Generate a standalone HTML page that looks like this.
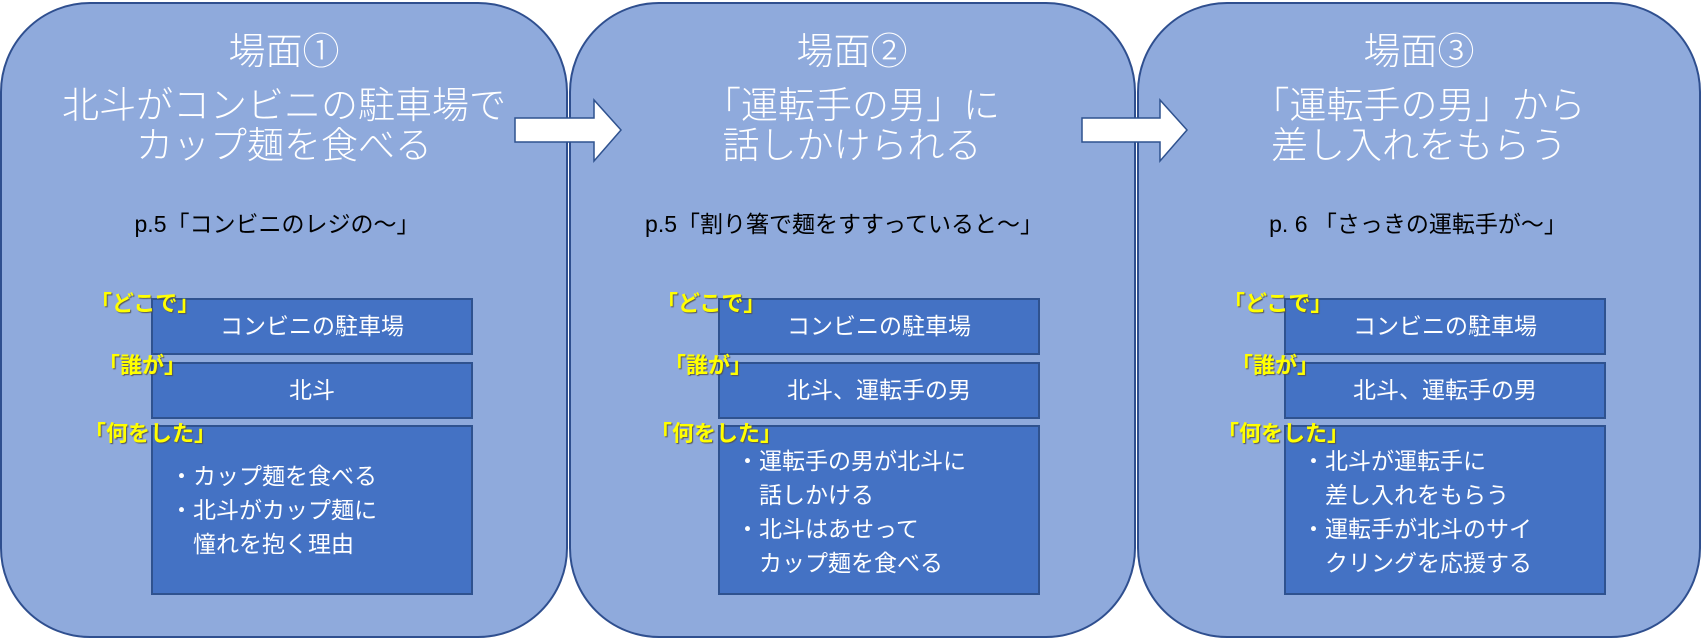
<!DOCTYPE html>
<html><head><meta charset="utf-8"><style>
body{margin:0;width:1702px;height:642px;background:#fff;position:relative;overflow:hidden;font-family:"Liberation Sans","Noto Sans CJK JP",sans-serif}
.p{position:absolute;top:2px;height:636px;background:#8faadc;border:2px solid #2f4f8f;border-radius:90px;box-sizing:border-box}
.t{position:absolute;color:#fff;font-size:37px;line-height:40px;text-align:center;white-space:nowrap;transform:translateX(-50%);font-weight:300}
.pg{position:absolute;color:#000;font-size:23px;white-space:nowrap;transform:translateX(-50%)}
.b{position:absolute;background:#4472c4;border:2px solid #2f528f;box-sizing:border-box;color:#fff;font-size:23px;text-align:center}
.y{position:absolute;color:#ffff00;font-weight:bold;font-size:22px;white-space:nowrap;text-shadow:1px 1px 1px #555}
.l{position:absolute;color:#fff;font-size:23px;line-height:34px;white-space:nowrap}
</style></head><body>
<div class="p" style="left:0;width:568px"></div>
<div class="p" style="left:569px;width:567px"></div>
<div class="p" style="left:1137px;width:564px"></div>

<svg style="position:absolute;left:0;top:0" width="1702" height="642">
<polygon points="515,118 594,118 594,100 621,130 594,161 594,142 515,142" fill="#fff" stroke="#2f528f" stroke-width="1.5"/>
<polygon points="1082,118 1160,118 1160,100 1187,130 1160,161 1160,142 1082,142" fill="#fff" stroke="#2f528f" stroke-width="1.5"/>
</svg>

<div class="t" style="left:284px;top:32px">場面①</div>
<div class="t" style="left:284px;top:86px">北斗がコンビニの駐車場で<br>カップ麺を食べる</div>
<div class="t" style="left:852px;top:32px">場面②</div>
<div class="t" style="left:852px;top:86px">「運転手の男」に<br>話しかけられる</div>
<div class="t" style="left:1419px;top:32px">場面③</div>
<div class="t" style="left:1419px;top:86px">「運転手の男」から<br>差し入れをもらう</div>

<div class="pg" style="left:277px;top:205px">p.5「コンビニのレジの～」</div>
<div class="pg" style="left:844px;top:205px">p.5「割り箸で麺をすすっていると～」</div>
<div class="pg" style="left:1418px;top:205px">p. 6 「さっきの運転手が～」</div>

<div class="b" style="left:151px;top:298px;width:322px;height:57px;line-height:53px">コンビニの駐車場</div>
<div class="b" style="left:151px;top:362px;width:322px;height:57px;line-height:53px">北斗</div>
<div class="b" style="left:151px;top:425px;width:322px;height:170px"></div>
<div class="b" style="left:718px;top:298px;width:322px;height:57px;line-height:53px">コンビニの駐車場</div>
<div class="b" style="left:718px;top:362px;width:322px;height:57px;line-height:53px">北斗、運転手の男</div>
<div class="b" style="left:718px;top:425px;width:322px;height:170px"></div>
<div class="b" style="left:1284px;top:298px;width:322px;height:57px;line-height:53px">コンビニの駐車場</div>
<div class="b" style="left:1284px;top:362px;width:322px;height:57px;line-height:53px">北斗、運転手の男</div>
<div class="b" style="left:1284px;top:425px;width:322px;height:170px"></div>

<div class="y" style="left:90px;top:286px">「どこで」</div>
<div class="y" style="left:98px;top:348px">「誰が」</div>
<div class="y" style="left:84px;top:416px">「何をした」</div>
<div class="y" style="left:656px;top:286px">「どこで」</div>
<div class="y" style="left:664px;top:348px">「誰が」</div>
<div class="y" style="left:650px;top:416px">「何をした」</div>
<div class="y" style="left:1223px;top:286px">「どこで」</div>
<div class="y" style="left:1231px;top:348px">「誰が」</div>
<div class="y" style="left:1217px;top:416px">「何をした」</div>

<div class="l" style="left:170px;top:459px">・カップ麺を食べる<br>・北斗がカップ麺に<br>　憧れを抱く理由</div>
<div class="l" style="left:736px;top:444px">・運転手の男が北斗に<br>　話しかける<br>・北斗はあせって<br>　カップ麺を食べる</div>
<div class="l" style="left:1302px;top:444px">・北斗が運転手に<br>　差し入れをもらう<br>・運転手が北斗のサイ<br>　クリングを応援する</div>
</body></html>
